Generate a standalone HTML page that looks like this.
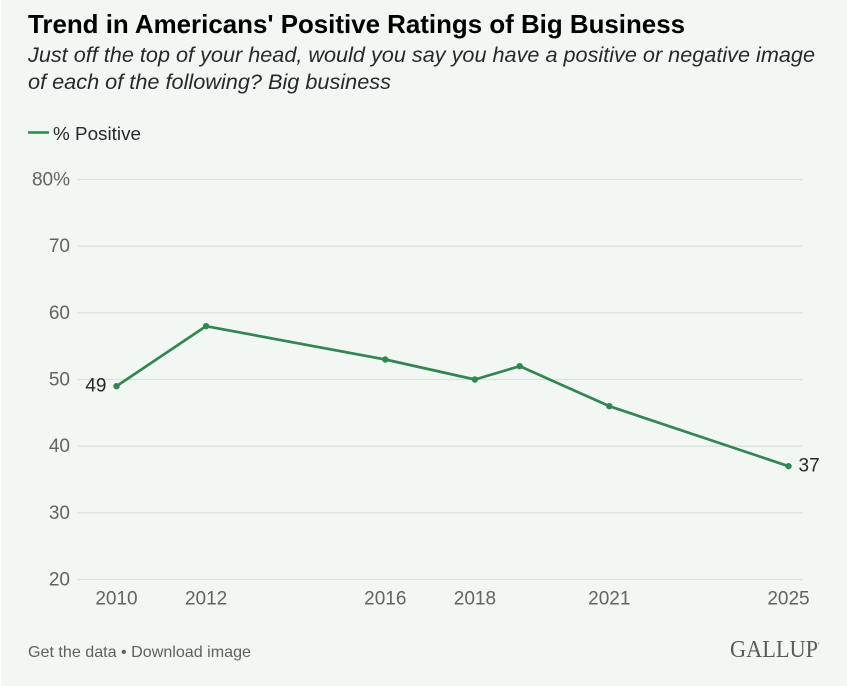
<!DOCTYPE html>
<html lang="en">
<head>
<meta charset="utf-8">
<title>Trend in Americans' Positive Ratings of Big Business</title>
<style>
  html, body { margin: 0; padding: 0; background: #ffffff; }
  body { width: 864px; height: 686px; overflow: hidden; position: relative; font-family: "Liberation Sans", sans-serif; }
  #card { position: absolute; left: 1px; top: 0; width: 846px; height: 686px; background: #f2f7f3; }
  svg { position: absolute; left: 0; top: 0; }
  text { font-family: "Liberation Sans", sans-serif; }
</style>
</head>
<body>
<div id="card"></div>
<svg id="chart" width="864" height="686" viewBox="0 0 864 686">
  <text x="28" y="33" font-size="26" font-weight="700" fill="#000000" textLength="657" lengthAdjust="spacingAndGlyphs">Trend in Americans' Positive Ratings of Big Business</text>
  <text x="28" y="62" font-size="21" font-style="italic" fill="#26282a" textLength="787" lengthAdjust="spacingAndGlyphs">Just off the top of your head, would you say you have a positive or negative image</text>
  <text x="28" y="89" font-size="21" font-style="italic" fill="#26282a" textLength="363" lengthAdjust="spacingAndGlyphs">of each of the following? Big business</text>
  <line x1="28" y1="132.5" x2="49" y2="132.5" stroke="#338552" stroke-width="2.6"></line>
  <text x="53" y="140" font-size="18.5" fill="#26282a" textLength="88" lengthAdjust="spacingAndGlyphs">% Positive</text>
  <g id="grid"></g>
  <g id="y-axis"></g>
  <g id="x-axis"></g>
  <g id="series"></g>
  <text x="28" y="657" font-size="16" fill="#5f6060" textLength="223" lengthAdjust="spacingAndGlyphs">Get the data • Download image</text>
  <text x="730" y="657" font-size="24" fill="#5a5a5a" style="font-family:'Liberation Serif',serif" textLength="88" lengthAdjust="spacingAndGlyphs">GALLUP</text>
  <text x="818" y="649" font-size="9" fill="#5a5a5a" style="font-family:'Liberation Serif',serif">'</text>
</svg>
<script>
const years = [2010, 2012, 2016, 2018, 2019, 2021, 2025];
const positive = [49, 58, 53, 50, 52, 46, 37];
const yTicks = [20, 30, 40, 50, 60, 70, 80];
const xTickYears = [2010, 2012, 2016, 2018, 2021, 2025];
const endLabels = [49, 37];

const NS = 'http://www.w3.org/2000/svg';
function xScale(year) {
  return 116.5 + (year - 2010) * (788.5 - 116.5) / (2025 - 2010);
}
function yScale(value) {
  return 579.5 - (value - 20) * (579.5 - 179.5) / (80 - 20);
}
function make(tag, attrs, parent, text) {
  const el = document.createElementNS(NS, tag);
  for (const k in attrs) el.setAttribute(k, attrs[k]);
  if (text !== undefined) el.textContent = text;
  parent.appendChild(el);
  return el;
}
const grid = document.getElementById('grid');
const yAxis = document.getElementById('y-axis');
const xAxis = document.getElementById('x-axis');
const series = document.getElementById('series');

yTicks.forEach(function (t) {
  const line = make('line', { x1: 78, x2: 802, y1: yScale(t), y2: yScale(t), stroke: '#dde1dd', 'stroke-width': 1.3 }, grid);
  
  
  const label = make('text', { x: 70, y: yScale(t) + 6, 'text-anchor': 'end', 'font-size': 19, fill: '#636363' }, yAxis, t === 80 ? t + '%' : String(t));
  
  
});

xTickYears.forEach(function (y) {
  const label = make('text', { x: xScale(y), y: 604.5, 'text-anchor': 'middle', 'font-size': 19, fill: '#636363' }, xAxis, String(y));
  
  
});

const points = years.map(function (y, i) { return xScale(y) + ',' + yScale(positive[i]); }).join(' ');
const path = make('polyline', { points: points, fill: 'none', stroke: '#338552', 'stroke-width': 2.7, 'stroke-linejoin': 'round' }, series);



years.forEach(function (y, i) {
  const dot = make('circle', { cx: xScale(y), cy: yScale(positive[i]), r: 3.2, fill: '#338552' }, series);
  
  
});

const firstLabel = make('text', { x: xScale(years[0]) - 10, y: yScale(positive[0]) + 5.5, 'text-anchor': 'end', 'font-size': 19, fill: '#26282a' }, series, String(endLabels[0]));



const lastIndex = years.length - 1;
const lastLabel = make('text', { x: xScale(years[lastIndex]) + 10, y: yScale(positive[lastIndex]) + 5.5, 'text-anchor': 'start', 'font-size': 19, fill: '#26282a' }, series, String(endLabels[1]));


</script>
</body>
</html>
